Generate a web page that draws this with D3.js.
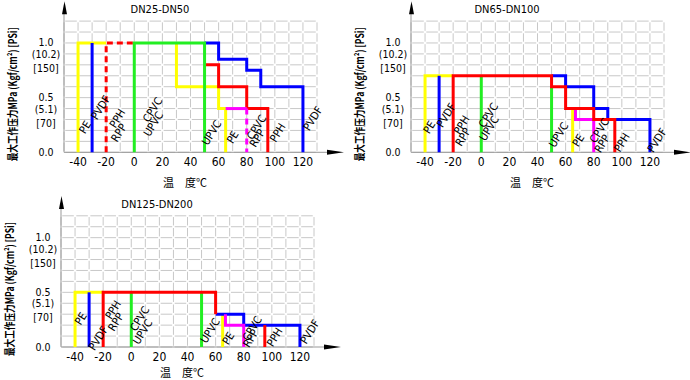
<!DOCTYPE html>
<html>
<head>
<meta charset="utf-8">
<script src="https://cdn.jsdelivr.net/npm/d3@7"></script>
<style>
  body { margin: 0; background: #fff; }
  text { font-family: "Liberation Sans Narrow", "DejaVu Sans Condensed", "Liberation Sans", sans-serif; fill: #000; }
  .cjk { font-family: "Noto Sans CJK SC", sans-serif; }
</style>
</head>
<body>
<svg id="chart" width="690" height="380"></svg>
<script>
// Axis ticks
const tempTicks = [-40, -20, 0, 20, 40, 60, 80, 100, 120];
const pressTicks = [0, 0.5, 1.0];
const pressMPa = ["0.0", "0.5", "1.0"];
const pressKgf = ["", "(5.1)", "(10.2)"];
const pressPsi = ["", "[70]", "[150]"];

// DN25-DN50 curves: [temperature, MPa]
const pe25 = [[[-40, 0], [-40, 1.0], [-20, 1.0]], [[30, 1.0], [30, 0.6], [60, 0.6], [60, 0.4], [65, 0.4], [65, 0]]];
const cpvc25 = [[[0, 0], [0, 1.0], [50, 1.0], [50, 0]]];
const pvdf25 = [[[-30, 0], [-30, 1.0]], [[50, 1.0], [60, 1.0], [60, 0.85], [80, 0.85], [80, 0.75], [90, 0.75], [90, 0.6], [120, 0.6], [120, 0]]];
const pphDash25 = [[[-20, 0], [-20, 1.0], [0, 1.0]]];
const pph25 = [[[50, 0.8], [60, 0.8], [60, 0.6], [80, 0.6], [80, 0.4], [95, 0.4], [95, 0]]];
const rpp25 = [[[65, 0.4], [80, 0.4]]];
const rppDash25 = [[[80, 0.4], [80, 0]]];

// DN65-DN100
const pe65 = [[[-40, 0], [-40, 0.7], [-20, 0.7]], [[65, 0.4], [65, 0]]];
const cpvc65 = [[[0, 0], [0, 0.7]], [[50, 0.6], [50, 0]]];
const pvdf65 = [[[-30, 0], [-30, 0.7]], [[50, 0.7], [60, 0.7], [60, 0.6], [80, 0.6], [80, 0.4], [90, 0.4], [90, 0.3], [120, 0.3], [120, 0]]];
const pph65 = [[[-20, 0], [-20, 0.7], [50, 0.7], [50, 0.6], [60, 0.6], [60, 0.4], [80, 0.4], [80, 0.3], [95, 0.3], [95, 0]]];
const rpp65 = [[[67, 0.4], [67, 0.3], [80, 0.3], [80, 0]]];

// DN125-DN200
const pe125 = [[[-40, 0], [-40, 0.5], [-20, 0.5]], [[65, 0.3], [65, 0]]];
const cpvc125 = [[[0, 0], [0, 0.5]], [[50, 0.5], [50, 0]]];
const pvdf125 = [[[-30, 0], [-30, 0.5]], [[60, 0.3], [80, 0.3], [80, 0.2], [120, 0.2], [120, 0]]];
const pph125 = [[[-20, 0], [-20, 0.5], [60, 0.5], [60, 0.3]], [[95, 0.2], [95, 0]]];
const rpp125 = [[[67, 0.3], [67, 0.2], [80, 0.2], [80, 0]]];

// Material labels: [text, temperature, MPa]
const labels25 = [["PE", -35, 0.23], ["PVDF", -24, 0.41], ["PPH", -12, 0.31], ["RPP", -11, 0.18],
  ["CPVC", 13, 0.39], ["UPVC", 13.5, 0.26], ["UPVC", 55, 0.18], ["PE", 70, 0.14],
  ["CPVC", 87, 0.23], ["RPP", 87.5, 0.13], ["PPH", 102, 0.18], ["PVDF", 127, 0.31]];
const labels65 = [["PE", -37, 0.23], ["PVDF", -25, 0.34], ["PPH", -14, 0.25], ["RPP", -13, 0.14],
  ["CPVC", 5, 0.34], ["UPVC", 5.5, 0.22], ["UPVC", 55, 0.16], ["PE", 69, 0.11],
  ["CPVC", 84, 0.2], ["RPP", 86, 0.08], ["PPH", 100, 0.09], ["PVDF", 125, 0.11]];
const labels125 = [["PE", -36, 0.26], ["PVDF", -23.5, 0.08], ["PPH", -13, 0.34], ["RPP", -11, 0.23],
  ["CPVC", 6, 0.26], ["UPVC", 8, 0.14], ["UPVC", 56, 0.15], ["PE", 69, 0.08],
  ["CPVC", 86, 0.17], ["RPP", 85, 0.08], ["PPH", 102, 0.09], ["PVDF", 127, 0.14]];

const colors = { pe: "#ffff00", cpvc: "#22ee22", pvdf: "#0000ff", pph: "#ff0000", rpp: "#ff00ff" };

const charts = [
  { title: "DN25-DN50", left: 64, bottom: 152.3, labels: labels25, xTitleDy: 35,
    series: [[pe25, colors.pe], [pph25, colors.pph], [pphDash25, colors.pph, true], [rpp25, colors.rpp],
      [rppDash25, colors.rpp, true], [pvdf25, colors.pvdf], [cpvc25, colors.cpvc]] },
  { title: "DN65-DN100", left: 411, bottom: 152.3, labels: labels65, xTitleDy: 35,
    series: [[pe65, colors.pe], [cpvc65, colors.cpvc], [pvdf65, colors.pvdf], [rpp65, colors.rpp], [pph65, colors.pph]] },
  { title: "DN125-DN200", left: 61, bottom: 347, labels: labels125, xTitleDy: 30,
    series: [[pe125, colors.pe], [cpvc125, colors.cpvc], [pvdf125, colors.pvdf], [pph125, colors.pph], [rpp125, colors.rpp]] }
];

const svg = d3.select("#chart");
const plotW = 253, plotH = 131.2;

function drawChart(cfg) {
  const x = d3.scaleLinear().domain([-50, 130]).range([cfg.left, cfg.left + plotW]);
  const y = d3.scaleLinear().domain([0, 1.2]).range([cfg.bottom, cfg.bottom - plotH]);
  const g = svg.append("g");

  // dashed grid, gaps at the crossings
  const cellW = x(-40) - x(-50), cellH = y(0) - y(0.1);
  g.selectAll(".vgrid")
    .data(d3.range(-50, 131, 10))
    .enter()
    .append("line")
    .attr("x1", (d) => x(d)).attr("x2", (d) => x(d))
    .attr("y1", y(0)).attr("y2", y(1.2))
    .attr("stroke", "#c8c8c8")
    .attr("stroke-dasharray", `${cellH - 2.5} 2.5`)
    .attr("stroke-dashoffset", -1.25);
  g.selectAll(".hgrid")
    .data(d3.range(0, 13).map((i) => i / 10))
    .enter()
    .append("line")
    .attr("x1", x(-50)).attr("x2", x(130))
    .attr("y1", (d) => y(d)).attr("y2", (d) => y(d))
    .attr("stroke", "#c8c8c8")
    .attr("stroke-dasharray", `${cellW - 2.5} 2.5`)
    .attr("stroke-dashoffset", -1.25);

  // axes with arrows
  const x0 = x(-50), y0 = y(0);
  g.append("line").attr("x1", x0).attr("x2", x0).attr("y1", y0).attr("y2", y0 - 139).attr("stroke", "#999");
  g.append("line").attr("x1", x0).attr("x2", x0 + 263).attr("y1", y0).attr("y2", y0).attr("stroke", "#999");
  g.append("path")
    .attr("d", `M${x0 - 2},${y0 - 138} L${x0 + 0.5},${y0 - 151} L${x0 + 3},${y0 - 138} Z`)
    .attr("fill", "#000");
  g.append("path")
    .attr("d", `M${x0 + 263},${y0 - 2.5} L${x0 + 280},${y0} L${x0 + 263},${y0 + 2.5} Z`)
    .attr("fill", "#000");

  // curves
  const line = d3.line().x((d) => x(d[0])).y((d) => y(d[1]));
  cfg.series.forEach(([paths, color, dashed]) => {
    g.selectAll(null)
      .data(paths)
      .enter()
      .append("path")
      .attr("d", line)
      .attr("fill", "none")
      .attr("stroke", color)
      .attr("stroke-width", 3)
      .attr("stroke-dasharray", dashed ? "6 4" : null);
  });

  // material labels
  g.selectAll(".lab")
    .data(cfg.labels)
    .enter()
    .append("text")
    .attr("transform", (d) => `translate(${x(d[1])},${y(d[2])}) rotate(-58)`)
    .attr("text-anchor", "middle")
    .attr("dy", "0.35em")
    .style("font-size", "11px")
    .text((d) => d[0]);

  // x tick labels
  g.selectAll(".xt")
    .data(tempTicks)
    .enter()
    .append("text")
    .attr("x", (d) => x(d))
    .attr("y", y0 + 14)
    .attr("text-anchor", "middle")
    .style("font-size", "12px")
    .text((d) => d);

  // y tick labels: MPa, (kgf/cm2), [psi]
  const yl = g.selectAll(".yt").data(pressTicks).enter().append("g");
  yl.append("text").attr("x", x0 - 18).attr("y", (d) => y(d) + 3.5)
    .attr("text-anchor", "middle").style("font-size", "10.5px").text((d, i) => pressMPa[i]);
  yl.append("text").attr("x", x0 - 18).attr("y", (d) => y(d) + 15)
    .attr("text-anchor", "middle").style("font-size", "10.5px").text((d, i) => pressKgf[i]);
  yl.append("text").attr("x", x0 - 18).attr("y", (d) => y(d) + 29)
    .attr("text-anchor", "middle").style("font-size", "10.5px").text((d, i) => pressPsi[i]);

  // titles
  g.append("text")
    .attr("x", x0 + 96).attr("y", y0 - 139)
    .attr("text-anchor", "middle")
    .style("font-size", "11px")
    .text(cfg.title);
  g.append("text")
    .attr("class", "cjk")
    .attr("x", x0 + 121).attr("y", y0 + cfg.xTitleDy)
    .attr("text-anchor", "middle")
    .style("font-size", "11px")
    .text("温\u3000度℃");
  g.append("text")
    .attr("class", "cjk")
    .attr("transform", `translate(${x0 - 47},${y0 - 58}) rotate(-90)`)
    .attr("text-anchor", "middle")
    .style("font-size", "11px")
    .style("font-weight", "bold")
    .attr("textLength", 134)
    .attr("lengthAdjust", "spacingAndGlyphs")
    .text("最大工作压力MPa (Kgf/cm²) [PSi]");
}

charts.forEach(drawChart);
</script>
</body>
</html>
